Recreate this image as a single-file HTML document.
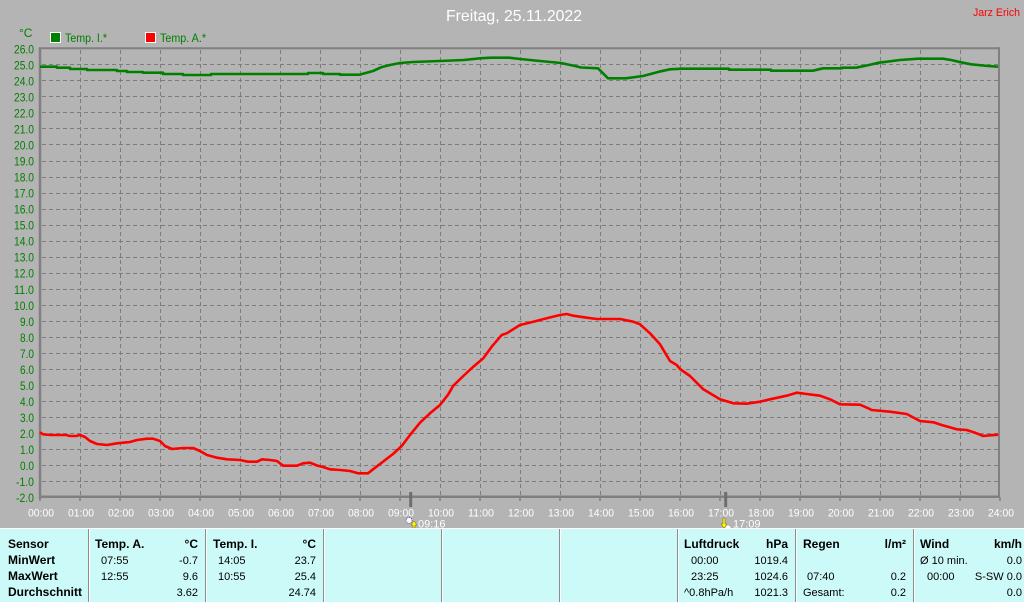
<!DOCTYPE html>
<html><head><meta charset="utf-8"><style>
html,body{margin:0;padding:0;background:#b4b4b4;}
svg{display:block;}
text{font-family:"Liberation Sans",sans-serif;}
.yl{fill:#008000;font-size:12px;text-anchor:end;}
.xl{fill:#fff;font-size:11px;text-anchor:middle;}
.b{font-weight:bold;font-size:12px;fill:#000;}
.r{font-size:11px;fill:#000;}
.e{text-anchor:end;}
</style></head><body>
<svg width="1024" height="602" viewBox="0 0 1024 602" xmlns="http://www.w3.org/2000/svg">
<rect x="0" y="0" width="1024" height="602" fill="#b4b4b4"/>
<text x="514" y="21" font-size="16" fill="#fff" text-anchor="middle" textLength="136" lengthAdjust="spacingAndGlyphs">Freitag, 25.11.2022</text>
<text x="973" y="16" font-size="11" fill="#ff0000" textLength="47" lengthAdjust="spacingAndGlyphs">Jarz Erich</text>
<text x="19" y="37" font-size="12" fill="#008000">°C</text>
<rect x="50.5" y="32.5" width="10" height="10" fill="#008000" stroke="#fff" stroke-width="1"/>
<text x="65" y="42" font-size="12" fill="#008000" textLength="42" lengthAdjust="spacingAndGlyphs">Temp. I.*</text>
<rect x="145.5" y="32.5" width="10" height="10" fill="#ff0000" stroke="#fff" stroke-width="1"/>
<text x="160" y="42" font-size="12" fill="#008000" textLength="46" lengthAdjust="spacingAndGlyphs">Temp. A.*</text>
<g id="grid" stroke="#7c7c7c" stroke-width="1" stroke-dasharray="4,3" fill="none"></g>
<g id="ylab"></g>
<g id="xlab"></g>
<g stroke="#808080" fill="none">
<line x1="40" y1="48.3" x2="1000" y2="48.3" stroke-width="2"/>
<line x1="999" y1="47.3" x2="999" y2="497" stroke-width="2"/>
<line x1="40" y1="47.3" x2="40" y2="499" stroke-width="2.5"/>
<line x1="39" y1="496.8" x2="1000" y2="496.8" stroke-width="2.5"/>
</g>
<g id="ticks" stroke="#808080" stroke-width="1.5"></g>
<line x1="410.7" y1="492" x2="410.7" y2="507" stroke="#6e6e6e" stroke-width="3"/>
<line x1="725.7" y1="492" x2="725.7" y2="507" stroke="#6e6e6e" stroke-width="3"/>
<polyline fill="none" stroke="#008000" stroke-width="2.6" stroke-linejoin="round" points="40,66.7 57,66.7 57,67.7 70,67.7 70,69 87,69 87,70 117,70 117,71 127,71 127,72 143,72 143,72.7 163,72.7 163,74 183,74 183,75 211,75 211,74 308,74 308,73 323,73 323,74 340,74 340,74.7 360,74.7 363,73.7 373,71 382,67 390,65 400,63 413,62 440,61 464,60 480,58.3 491,57.7 509,57.7 520,59 540,61 561,63 575,66 581,67.5 598,68.3 608,78.3 626,78.3 643,76 659,71.7 670,69.3 682,68.7 729,68.7 729,69.7 771,69.7 771,70.7 813,70.7 823,68.3 842,68.3 842,67.7 856,67.7 869,65 879,62.7 900,60 918,58.7 943,58.7 951,60 961,62.3 971,64.3 988,66 998,66.7"/>
<polyline fill="none" stroke="#ff0000" stroke-width="2.6" stroke-linejoin="round" points="40,432.3 43,434.3 50,435 66,435 70,436 76,436 80,435 85,437 90,441 97,444 107,445 117,443.3 130,442 137,440 147,438.7 153,438.7 160,441 165,446 172,449 183,448 193,448 200,451 207,455 217,457.7 227,459.3 240,460 248,461.7 257,461.7 262,459.3 270,460 277,461 283,465.7 297,465.7 303,463.3 310,462.7 317,465.5 323,467 330,469.3 340,470 350,471 358,473.3 368,473.3 373,469.3 383,461.7 393,454 401.7,446 410,435 420,422.7 430,413.3 440,405 448.3,394.3 453.3,385.7 463.3,376 473.3,366.7 483.3,358.3 491.7,346.7 501.7,335 506.7,333.3 520,325 533.3,321.7 546.7,318.3 560,315 566.7,314 573.3,315.7 586.7,317.7 596.7,319 620,319 633.3,321.7 640,324.3 650,333.3 660,344.3 670,361 676.7,365 680,369 690,376 703.3,389.3 720,399.3 733.3,403.3 746.7,403.7 760,401.7 770,399.3 786.7,395.7 796.7,392.7 806.7,394 820,395.7 830,399.3 840,404.3 860,404.7 868.3,408.3 871.7,410 890,411.7 906.7,414 920,421 933.3,422.3 941.7,425 956.7,429.3 966.7,430 975,432.7 983.3,436 990,435.3 998.3,434.7"/>
<circle cx="409" cy="520.5" r="3" fill="#fff" stroke="#3030a0" stroke-width="0.8" stroke-dasharray="1,1"/>
<polygon points="414,521 411,525 413,525 413,528 415,528 415,525 417,525" fill="#ffff00" stroke="#806000" stroke-width="0.5"/>
<text x="418" y="527.5" class="xl" style="text-anchor:start">09:16</text>
<polygon points="724,528 721,524 723,524 723,518 725,518 725,524 727,524" fill="#ffff00" stroke="#806000" stroke-width="0.5"/>
<circle cx="728" cy="528" r="2.5" fill="#fff"/>
<text x="733" y="527.5" class="xl" style="text-anchor:start">17:09</text>
<rect x="0" y="528" width="1024" height="74" fill="#ccfaf8"/>
<line x1="0" y1="528.5" x2="1024" y2="528.5" stroke="#fff" stroke-width="1"/>
<g id="divs"></g>
<text x="8" y="548" class="b">Sensor</text>
<text x="8" y="564" class="b">MinWert</text>
<text x="8" y="580" class="b">MaxWert</text>
<text x="8" y="596" class="b">Durchschnitt</text>
<text x="95" y="548" class="b">Temp. A.</text>
<text x="198" y="548" class="b e">°C</text>
<text x="101" y="564" class="r">07:55</text><text x="198" y="564" class="r e">-0.7</text>
<text x="101" y="580" class="r">12:55</text><text x="198" y="580" class="r e">9.6</text>
<text x="198" y="596" class="r e">3.62</text>
<text x="213" y="548" class="b">Temp. I.</text>
<text x="316" y="548" class="b e">°C</text>
<text x="218" y="564" class="r">14:05</text><text x="316" y="564" class="r e">23.7</text>
<text x="218" y="580" class="r">10:55</text><text x="316" y="580" class="r e">25.4</text>
<text x="316" y="596" class="r e">24.74</text>
<text x="684" y="548" class="b">Luftdruck</text>
<text x="788" y="548" class="b e">hPa</text>
<text x="691" y="564" class="r">00:00</text><text x="788" y="564" class="r e">1019.4</text>
<text x="691" y="580" class="r">23:25</text><text x="788" y="580" class="r e">1024.6</text>
<text x="684" y="596" class="r">^0.8hPa/h</text><text x="788" y="596" class="r e">1021.3</text>
<text x="803" y="548" class="b">Regen</text>
<text x="906" y="548" class="b e">l/m²</text>
<text x="807" y="580" class="r">07:40</text><text x="906" y="580" class="r e">0.2</text>
<text x="803" y="596" class="r">Gesamt:</text><text x="906" y="596" class="r e">0.2</text>
<text x="920" y="548" class="b">Wind</text>
<text x="1022" y="548" class="b e">km/h</text>
<text x="920" y="564" class="r">Ø 10 min.</text><text x="1022" y="564" class="r e">0.0</text>
<text x="927" y="580" class="r">00:00</text><text x="1022" y="580" class="r e">S-SW 0.0</text>
<text x="1022" y="596" class="r e">0.0</text>
<script>
(function(){
var NS="http://www.w3.org/2000/svg";
function el(p,n,a,t){var e=document.createElementNS(NS,n);for(var k in a)e.setAttribute(k,a[k]);if(t!==undefined)e.textContent=t;p.appendChild(e);return e;}
var g=document.getElementById("grid"),yl=document.getElementById("ylab"),xl=document.getElementById("xlab"),tk=document.getElementById("ticks"),dv=document.getElementById("divs");
for(var h=1;h<24;h++){var x=40+h*40;el(g,"line",{x1:x+0.5,y1:50,x2:x+0.5,y2:496});}
for(var v=26;v>=-2;v--){var y=48.3+(26-v)*16.03;
 if(v<26&&v>-2)el(g,"line",{x1:42,y1:Math.round(y)+0.5,x2:998,y2:Math.round(y)+0.5});
 el(yl,"text",{x:34,y:(y+5).toFixed(1),"class":"yl",textLength:(v<0?18:(v>=10?20:14)),lengthAdjust:"spacingAndGlyphs"},v.toFixed(1));}
for(var h=0;h<=24;h++){var x=40+h*40;var s=(h<10?"0":"")+h+":00";
 el(xl,"text",{x:x+1,y:516.7,"class":"xl",textLength:26,lengthAdjust:"spacingAndGlyphs"},s);
 el(tk,"line",{x1:x,y1:497,x2:x,y2:501});}
[88,205,323,441,559,677,795,913].forEach(function(x){
 el(dv,"line",{x1:x+0.5,y1:529,x2:x+0.5,y2:602,stroke:"#8c8c8c","stroke-width":1});
 el(dv,"line",{x1:x+1.5,y1:529,x2:x+1.5,y2:602,stroke:"#ffffff","stroke-width":1});});
})();
</script>
</svg>
</body></html>
